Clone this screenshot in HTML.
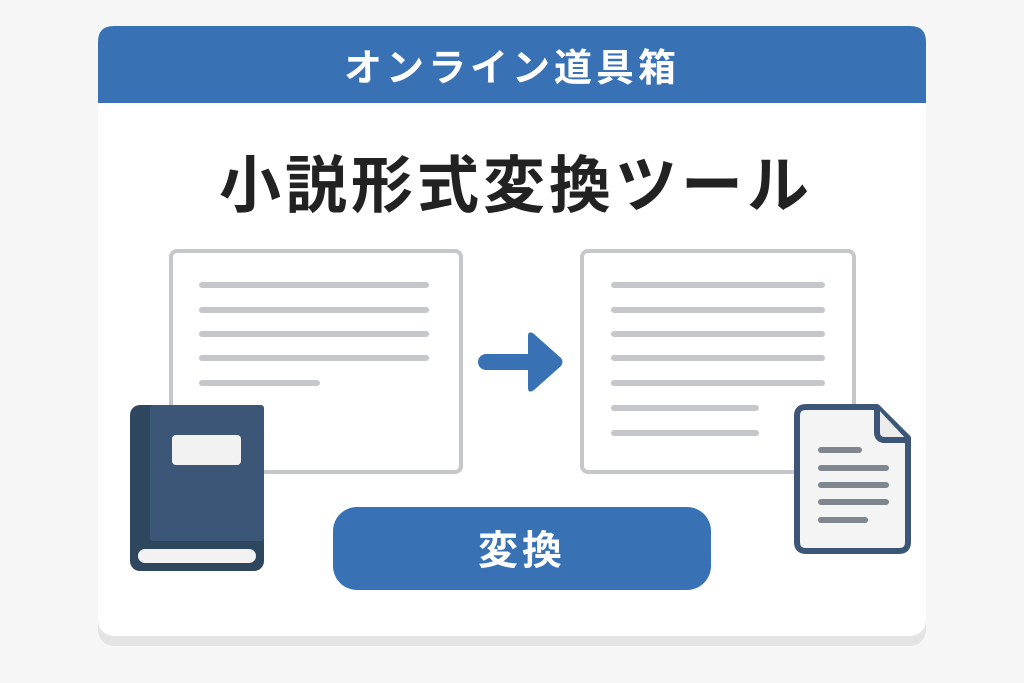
<!DOCTYPE html>
<html><head><meta charset="utf-8"><style>
html,body{margin:0;padding:0;background:#f6f6f6;}
svg{display:block}
text{font-family:"Liberation Sans","Noto Sans CJK JP",sans-serif;font-weight:bold}
</style></head><body>
<svg width="1024" height="683" viewBox="0 0 1024 683" xmlns="http://www.w3.org/2000/svg">
<rect width="1024" height="683" fill="#f6f6f6"/>
<rect x="98" y="34" width="828" height="612" rx="16" fill="#e4e4e4"/>
<rect x="98" y="26" width="828" height="610" rx="16" fill="#ffffff"/>
<path d="M98 103 V42 Q98 26 114 26 H910 Q926 26 926 42 V103 Z" fill="#3872b4"/>
<text x="512" y="81" font-size="38" fill="#fff" text-anchor="middle" letter-spacing="4">オンライン道具箱</text>
<text x="516" y="207" font-size="62" fill="#222" text-anchor="middle" letter-spacing="4">小説形式変換ツール</text>
<g fill="#fff" stroke="#c5c7cb" stroke-width="4">
<rect x="171" y="251" width="290" height="221" rx="6"/>
<rect x="582" y="251" width="272" height="221" rx="6"/>
</g>
<g stroke="#c5c7cb" stroke-width="6" stroke-linecap="round">
<line x1="202" y1="285" x2="426" y2="285"/><line x1="202" y1="310" x2="426" y2="310"/>
<line x1="202" y1="334" x2="426" y2="334"/><line x1="202" y1="358" x2="426" y2="358"/>
<line x1="202" y1="383" x2="317" y2="383"/>
<line x1="614" y1="285" x2="822" y2="285"/><line x1="614" y1="310" x2="822" y2="310"/>
<line x1="614" y1="334" x2="822" y2="334"/><line x1="614" y1="358" x2="822" y2="358"/>
<line x1="614" y1="383" x2="822" y2="383"/><line x1="614" y1="408" x2="756" y2="408"/>
<line x1="614" y1="433" x2="756" y2="433"/>
</g>
<line x1="486" y1="362" x2="532" y2="362" stroke="#3872b4" stroke-width="16" stroke-linecap="round"/>
<path d="M528 336 Q528 330 534 334 L561 358 Q564 362 561 366 L534 390 Q528 394 528 388 Z" fill="#3872b4"/>
<!-- book -->
<rect x="130" y="405" width="134" height="166" rx="10" fill="#2e475f"/>
<rect x="150" y="405" width="114" height="136" rx="3" fill="#3b5676"/>
<rect x="138" y="549" width="118" height="14" rx="7" fill="#f2f2f2"/>
<rect x="172" y="435" width="69" height="30" rx="4" fill="#f2f2f2"/>
<!-- doc -->
<path d="M806 407 H877 L908 438 V542 Q908 551 899 551 H806 Q797 551 797 542 V416 Q797 407 806 407 Z" fill="#f4f4f4" stroke="#3b5676" stroke-width="6" stroke-linejoin="round"/>
<path d="M877 408 V432 Q877 440 885 440 H907" fill="#ececec" stroke="#3b5676" stroke-width="6" stroke-linejoin="round"/>
<g stroke="#7f868d" stroke-width="6" stroke-linecap="round">
<line x1="821" y1="450" x2="859" y2="450"/><line x1="821" y1="468" x2="886" y2="468"/>
<line x1="821" y1="485" x2="886" y2="485"/><line x1="821" y1="502" x2="886" y2="502"/>
<line x1="821" y1="520" x2="865" y2="520"/>
</g>
<rect x="333" y="507" width="378" height="83" rx="24" fill="#3872b4"/>
<text x="522" y="564" font-size="40" fill="#fff" text-anchor="middle" letter-spacing="4">変換</text>
</svg>
</body></html>
